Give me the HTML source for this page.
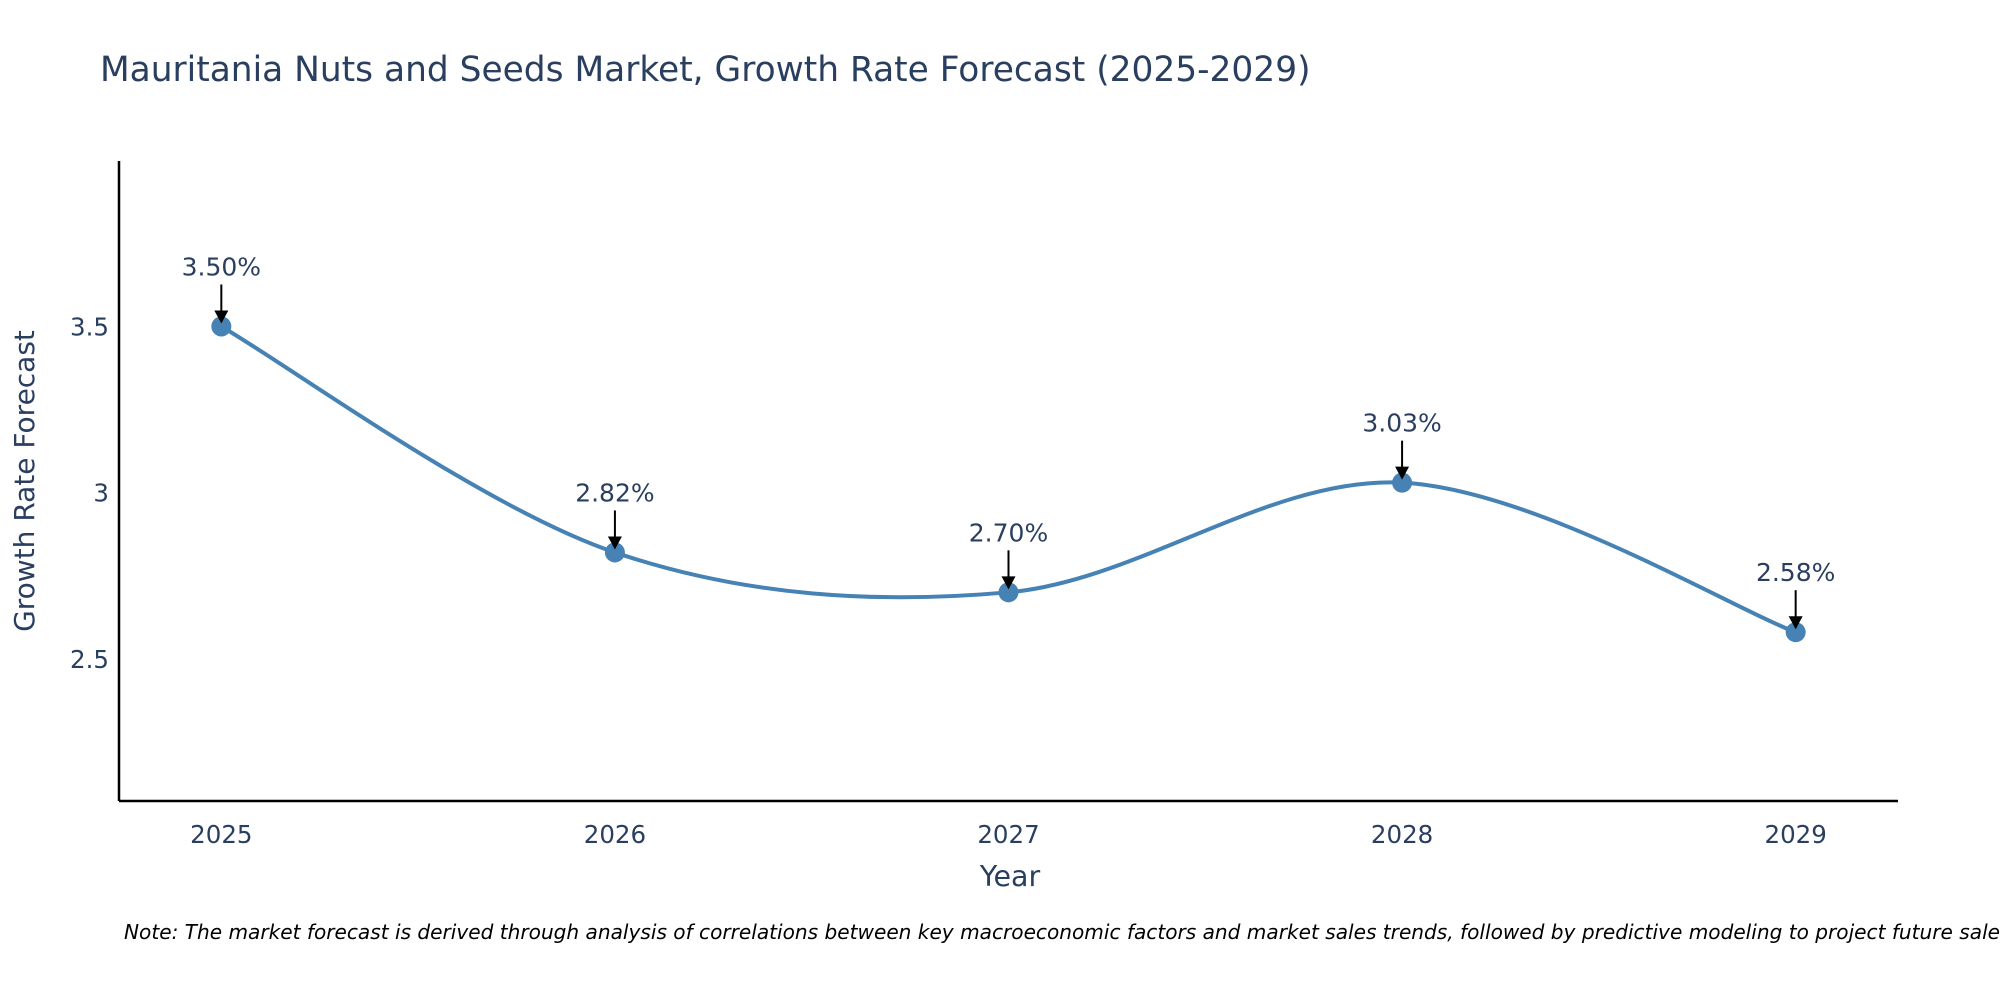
<!DOCTYPE html>
<html><head><meta charset="utf-8"><style>
body{margin:0;background:#fff;}
svg{display:block;font-family:"DejaVu Sans","Liberation Sans",sans-serif;}
</style></head><body>
<svg id="chart" width="2000" height="1000" viewBox="0 0 2000 1000">
<text x="100" y="81" font-size="34.4" fill="#2a3f5f">Mauritania Nuts and Seeds Market, Growth Rate Forecast (2025-2029)</text>
<g id="axes"></g>
<g id="series"></g>
<g id="annots"></g>
<text x="1010" y="886" font-size="28.5" fill="#2a3f5f" text-anchor="middle">Year</text>
<text transform="translate(34,481) rotate(-90)" font-size="28" fill="#2a3f5f" text-anchor="middle">Growth Rate Forecast</text>
<text x="124" y="939" font-size="20.1" font-style="italic" fill="#000">Note: The market forecast is derived through analysis of correlations between key macroeconomic factors and market sales trends, followed by predictive modeling to project future sales.</text>
</svg>
<script>
const years = [2025, 2026, 2027, 2028, 2029];
const rates = [3.50, 2.82, 2.70, 3.03, 2.58];
const labels = ["3.50%", "2.82%", "2.70%", "3.03%", "2.58%"];
const yTicks = [2.5, 3, 3.5];
const yTickLabels = ["2.5", "3", "3.5"];

const NS = "http://www.w3.org/2000/svg";
const X0 = 119, X1 = 1898, Y0 = 801, Y1 = 161;
const yMin = 2.072, yMax = 3.998;
const xMin = 2024.74, xMax = 2029.26;
function xs(v){ return X0 + (v - xMin) / (xMax - xMin) * (X1 - X0); }
function ys(v){ return Y0 - (v - yMin) / (yMax - yMin) * (Y0 - Y1); }
function mk(tag, attrs, parent){ const e = document.createElementNS(NS, tag); for (const k in attrs) e.setAttribute(k, attrs[k]); parent.appendChild(e); return e; }

const axes = document.getElementById('axes');
const xl = mk('line', {x1:X0, y1:Y0, x2:X1, y2:Y0, stroke:'#000', 'stroke-width':2.5}, axes);


const yl = mk('line', {x1:X0, y1:Y0, x2:X0, y2:Y1, stroke:'#000', 'stroke-width':2.5}, axes);


years.forEach((yr) => {
  const t = mk('text', {x:xs(yr), y:Y0 + 42, 'font-size':24.5, fill:'#2a3f5f', 'text-anchor':'middle'}, axes);
  t.textContent = String(yr);
  
  
});
yTicks.forEach((v, i) => {
  const t = mk('text', {x:X0 - 10, y:ys(v) + 9, 'font-size':24.5, fill:'#2a3f5f', 'text-anchor':'end'}, axes);
  t.textContent = yTickLabels[i];
  
  
});

const pts = years.map((yr, i) => [xs(yr), ys(rates[i])]);
let d = `M${pts[0][0]},${pts[0][1]}`;
const s = 1/6;
for (let i = 0; i < pts.length - 1; i++) {
  const p0 = pts[Math.max(0, i-1)], p1 = pts[i], p2 = pts[i+1], p3 = pts[Math.min(pts.length-1, i+2)];
  const c1 = [p1[0] + (p2[0]-p0[0])*s, p1[1] + (p2[1]-p0[1])*s];
  const c2 = [p2[0] - (p3[0]-p1[0])*s, p2[1] - (p3[1]-p1[1])*s];
  d += ` C${c1[0]},${c1[1]} ${c2[0]},${c2[1]} ${p2[0]},${p2[1]}`;
}
const series = document.getElementById('series');
const line = mk('path', {d:d, fill:'none', stroke:'#4682B4', 'stroke-width':4}, series);


pts.forEach((p) => {
  const c = mk('circle', {cx:p[0], cy:p[1], r:10, fill:'#4682B4'}, series);
  
  
});

const an = document.getElementById('annots');
pts.forEach((p, i) => {
  const l = mk('line', {x1:p[0], y1:p[1] - 42, x2:p[0], y2:p[1] - 14, stroke:'#000', 'stroke-width':2}, an);
  
  
  const h = mk('polygon', {points:`${p[0]-7},${p[1]-16} ${p[0]+7},${p[1]-16} ${p[0]},${p[1]-3}`, fill:'#000'}, an);
  
  
  const t = mk('text', {x:p[0], y:p[1] - 51, 'font-size':25, fill:'#2a3f5f', 'text-anchor':'middle'}, an);
  t.textContent = labels[i];
  
  
});
</script>
</body></html>
